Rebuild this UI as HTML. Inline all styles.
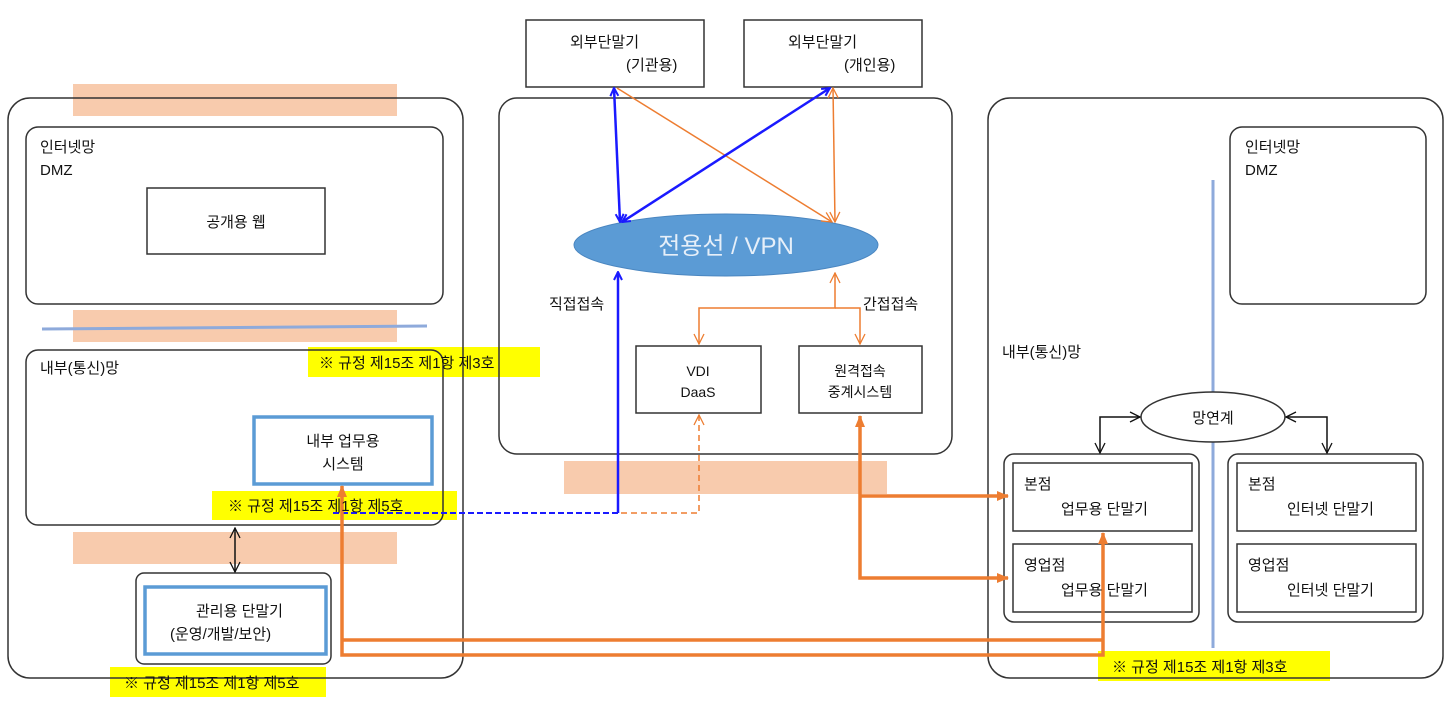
<!DOCTYPE html>
<html><head><meta charset="utf-8"><style>
body{margin:0;background:#fff}
svg{display:block;font-family:"Liberation Sans","Noto Sans CJK KR",sans-serif}
text{font-size:15px;fill:#111}
</style></head><body>
<svg width="1454" height="701" viewBox="0 0 1454 701">
<defs>
<marker id="ab" markerWidth="10" markerHeight="10" refX="9" refY="5" orient="auto-start-reverse" markerUnits="userSpaceOnUse"><path d="M1,1 L9,5 L1,9" fill="none" stroke="#1a1aff" stroke-width="2"/></marker>
<marker id="ao" markerWidth="12" markerHeight="12" refX="11" refY="6" orient="auto-start-reverse" markerUnits="userSpaceOnUse"><path d="M1,1 L11,6 L1,11" fill="none" stroke="#ed7d31" stroke-width="1.3"/></marker>
<marker id="aof" markerWidth="12" markerHeight="12" refX="11" refY="6" orient="auto-start-reverse" markerUnits="userSpaceOnUse"><path d="M0,1 L12,6 L0,11 Z" fill="#ed7d31"/></marker>
<marker id="ak" markerWidth="12" markerHeight="12" refX="11" refY="6" orient="auto-start-reverse" markerUnits="userSpaceOnUse"><path d="M1,1 L11,6 L1,11" fill="none" stroke="#111" stroke-width="1.3"/></marker>
</defs>
<g fill="#f8cbad">
<rect x="73" y="84" width="324" height="32"/>
<rect x="73" y="310" width="324" height="32"/>
<rect x="73" y="532" width="324" height="32"/>
<rect x="564" y="461" width="323" height="33"/>
</g>
<g fill="#ffff00">
<rect x="308" y="347" width="232" height="30"/>
<rect x="212" y="491" width="245" height="29"/>
<rect x="110" y="667" width="216" height="30"/>
<rect x="1098" y="651" width="232" height="30"/>
</g>
<g fill="none" stroke="#333" stroke-width="1.5">
<rect x="8" y="98" width="455" height="580" rx="22"/>
<rect x="499" y="98" width="453" height="356" rx="18"/>
<rect x="988" y="98" width="455" height="580" rx="22"/>
<rect x="26" y="127" width="417" height="177" rx="12"/>
<rect x="26" y="350" width="417" height="175" rx="12"/>
<rect x="136" y="573" width="195" height="91" rx="8"/>
<rect x="1230" y="127" width="196" height="177" rx="12"/>
<rect x="1004" y="454" width="195" height="168" rx="10"/>
<rect x="1228" y="454" width="195" height="168" rx="10"/>
<rect x="147" y="188" width="178" height="66"/>
<rect x="526" y="20" width="178" height="67"/>
<rect x="744" y="20" width="178" height="67"/>
<rect x="636" y="346" width="125" height="67"/>
<rect x="799" y="346" width="123" height="67"/>
<rect x="1013" y="463" width="179" height="68"/>
<rect x="1013" y="544" width="179" height="68"/>
<rect x="1237" y="463" width="179" height="68"/>
<rect x="1237" y="544" width="179" height="68"/>
</g>
<line x1="42" y1="329" x2="427" y2="326" stroke="#8eaadb" stroke-width="3"/>
<line x1="1213" y1="180" x2="1213" y2="648" stroke="#8eaadb" stroke-width="3"/>
<g fill="none" stroke="#5b9bd5" stroke-width="3.5">
<rect x="254" y="417" width="178" height="67"/>
<rect x="145" y="587" width="181" height="67"/>
</g>
<ellipse cx="726" cy="245" rx="152" ry="31" fill="#5b9bd5" stroke="#4a86c0"/>
<text x="726" y="254" style="font-size:24px;fill:#e6eff9" text-anchor="middle">전용선 / VPN</text>
<ellipse cx="1213" cy="417" rx="72" ry="25" fill="#fff" stroke="#333" stroke-width="1.5"/>
<g fill="none" stroke-width="1.5" stroke="#ed7d31">
<line x1="617" y1="88" x2="832" y2="222" marker-end="url(#ao)"/>
<line x1="833" y1="88" x2="835" y2="222" marker-start="url(#ao)" marker-end="url(#ao)"/>
<polyline points="835,273 835,308 699,308 699,344" marker-start="url(#ao)" marker-end="url(#ao)"/>
<polyline points="835,308 860,308 860,344" marker-end="url(#ao)"/>
<polyline points="699,415 699,513 618,513" stroke-dasharray="6,4" marker-start="url(#ao)"/>
</g>
<g fill="none" stroke="#1a1aff" stroke-width="2.5">
<line x1="614" y1="88" x2="620" y2="222" marker-start="url(#ab)" marker-end="url(#ab)"/>
<line x1="830" y1="88" x2="622" y2="222" marker-start="url(#ab)" marker-end="url(#ab)"/>
<polyline points="618,272 618,513" marker-start="url(#ab)"/>
<line x1="618" y1="513" x2="330" y2="513" stroke-width="2" stroke-dasharray="6,3"/>
</g>
<g fill="none" stroke="#ed7d31" stroke-width="3.5">
<polyline points="860,416 860,578 1008,578" marker-start="url(#aof)" marker-end="url(#aof)"/>
<polyline points="860,496 1008,496" marker-end="url(#aof)"/>
<polyline points="342,486 342,655 1103,655 1103,533" marker-start="url(#aof)" marker-end="url(#aof)"/>
<polyline points="342,640 1103,640"/>
</g>
<g fill="none" stroke="#111" stroke-width="1.5">
<line x1="235" y1="528" x2="235" y2="572" marker-start="url(#ak)" marker-end="url(#ak)"/>
<polyline points="1140,417 1100,417 1100,453" marker-start="url(#ak)" marker-end="url(#ak)"/>
<polyline points="1286,417 1327,417 1327,453" marker-start="url(#ak)" marker-end="url(#ak)"/>
</g>
<g>
<text x="319" y="368">※ 규정 제15조 제1항 제3호</text>
<text x="228" y="511">※ 규정 제15조 제1항 제5호</text>
<text x="124" y="688">※ 규정 제15조 제1항 제5호</text>
<text x="1112" y="672">※ 규정 제15조 제1항 제3호</text>
<text x="40" y="152">인터넷망</text><text x="40" y="175">DMZ</text>
<text x="236" y="227" text-anchor="middle">공개용 웹</text>
<text x="40" y="373">내부(통신)망</text>
<text x="343" y="446" text-anchor="middle">내부 업무용</text>
<text x="343" y="469" text-anchor="middle">시스템</text>
<text x="196" y="616">관리용 단말기</text>
<text x="170" y="639">(운영/개발/보안)</text>
<text x="570" y="47">외부단말기</text><text x="626" y="70">(기관용)</text>
<text x="788" y="47">외부단말기</text><text x="844" y="70">(개인용)</text>
<text x="549" y="309">직접접속</text>
<text x="863" y="309">간접접속</text>
<text x="698" y="376" text-anchor="middle" style="font-size:14px">VDI</text>
<text x="698" y="397" text-anchor="middle" style="font-size:14px">DaaS</text>
<text x="860" y="376" text-anchor="middle" style="font-size:14px">원격접속</text>
<text x="860" y="397" text-anchor="middle" style="font-size:14px">중계시스템</text>
<text x="1245" y="152">인터넷망</text><text x="1245" y="175">DMZ</text>
<text x="1002" y="357">내부(통신)망</text>
<text x="1213" y="423" text-anchor="middle">망연계</text>
<text x="1024" y="489">본점</text><text x="1061" y="514">업무용 단말기</text>
<text x="1024" y="570">영업점</text><text x="1061" y="595">업무용 단말기</text>
<text x="1248" y="489">본점</text><text x="1287" y="514">인터넷 단말기</text>
<text x="1248" y="570">영업점</text><text x="1287" y="595">인터넷 단말기</text>
</g>
</svg>
</body></html>
